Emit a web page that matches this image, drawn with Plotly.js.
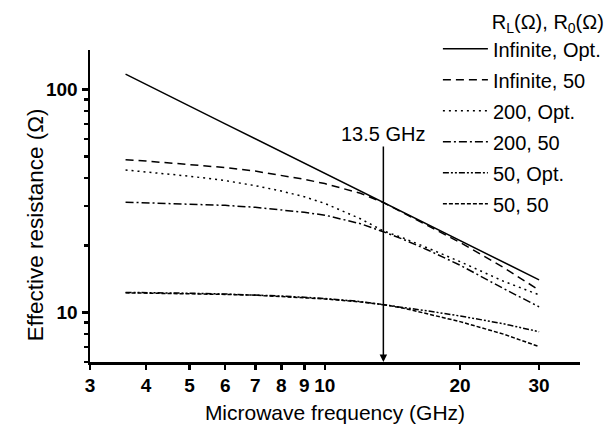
<!DOCTYPE html>
<html>
<head>
<meta charset="utf-8">
<script src="https://cdn.plot.ly/plotly-3.0.1.min.js"></script>
<style>html,body{margin:0;padding:0;background:#fff;}#chart{width:609px;height:430px;}</style>
</head>
<body>
<div id="chart"></div>
<script>
// Microwave frequency (GHz)
const freq = [3.6, 4, 5, 6, 7, 8, 9, 10, 12, 13.5, 15, 17, 20, 25, 30];
// Effective resistance (Ohm) for each R_L, R_0 combination
const infOpt   = [117, 105, 84, 70, 60, 52.5, 46.7, 42, 35, 31.1, 28, 24.7, 21, 16.8, 14];
const inf50    = [48.3, 47.7, 46, 44.6, 43, 41.2, 39.5, 37.8, 34.2, 31.1, 27.9, 24.5, 20.6, 15.9, 12.6];
const r200Opt  = [43.5, 42.7, 40.8, 39, 37, 35, 33, 30.8, 26.3, 23.2, 21.5, 19.4, 16.9, 13.8, 12.0];
const r20050   = [31.2, 31.0, 30.6, 30.2, 29.6, 28.9, 28.1, 27.3, 25.0, 23.0, 21.2, 19.0, 16.3, 12.8, 10.6];
const r50Opt   = [12.3, 12.28, 12.2, 12.1, 12.0, 11.85, 11.7, 11.55, 11.2, 10.85, 10.5, 10.15, 9.65, 8.9, 8.2];
const r5050    = [12.25, 12.22, 12.15, 12.05, 11.95, 11.8, 11.65, 11.5, 11.15, 10.85, 10.45, 9.85, 9.1, 8.0, 7.03];

const seriesNames = ['Infinite, Opt.', 'Infinite, 50', '200, Opt.', '200, 50', '50, Opt.', '50, 50'];
const seriesValues = [infOpt, inf50, r200Opt, r20050, r50Opt, r5050];
const dashes = ['solid', '8px,5px', '2px,4px', '8px,3px,2px,3px', '6px,2px,2px,2px,2px,2px', '4px,2px'];

const xTicks = [3, 4, 5, 6, 7, 8, 9, 10, 20, 30];
const yTicks = [10, 100];
const yMinor = [6, 7, 8, 9, 20, 30, 40, 50, 60, 70, 80, 90];

const FONT = 'Liberation Sans, Arial, Helvetica, sans-serif';

const traces = seriesNames.map((n, i) => ({
  x: freq, y: seriesValues[i], type: 'scatter', mode: 'lines', name: n,
  legendgroup: 'g' + i,
  line: {color: '#000', width: 1.5, dash: dashes[i]}
}));

const layout = {
  width: 609, height: 430,
  margin: {l: 90, r: 29, t: 50, b: 68, autoexpand: false},
  paper_bgcolor: '#fff', plot_bgcolor: '#fff',
  font: {family: FONT, color: '#000', size: 20},
  showlegend: true,
  legend: {
    x: 0.71, xanchor: 'left', y: 1.15, yanchor: 'top',
    bgcolor: 'rgba(0,0,0,0)', borderwidth: 0,
    font: {family: FONT, size: 20, color: '#000'},
    traceorder: 'grouped', tracegroupgap: 2, itemwidth: 45,
    title: {text: 'R<sub>L</sub>(Ω), R<sub>0</sub>(Ω)', side: 'top right', font: {family: FONT, size: 20}}
  },
  xaxis: {
    type: 'log', range: [Math.log10(3), Math.log10(37)],
    showgrid: false, zeroline: false, showline: true, linewidth: 2.5, linecolor: '#000',
    ticks: 'outside', ticklen: 5, tickwidth: 2.5, tickcolor: '#000',
    tickmode: 'array', tickvals: xTicks, ticktext: xTicks.map(String),
    tickfont: {family: FONT, size: 19, color: '#000', weight: 'bold'},
    title: {text: 'Microwave frequency (GHz)', font: {family: FONT, size: 21}, standoff: 10}
  },
  yaxis: {
    type: 'log', range: [Math.log10(6), Math.log10(150)],
    showgrid: false, zeroline: false, showline: true, linewidth: 2.5, linecolor: '#000',
    ticks: 'outside', ticklen: 6, tickwidth: 2.5, tickcolor: '#000',
    tickmode: 'array', tickvals: yTicks, ticktext: yTicks.map(String),
    tickfont: {family: FONT, size: 19, color: '#000', weight: 'bold'},
    minor: {tickmode: 'array', tickvals: yMinor, ticks: 'outside', ticklen: 4, tickwidth: 2.5, tickcolor: '#000', showgrid: false}
  },
  annotations: [{
    x: Math.log10(13.5), y: Math.log10(6), xref: 'x', yref: 'y',
    text: '13.5 GHz', showarrow: true, arrowhead: 2, arrowsize: 1, arrowwidth: 1.5, arrowcolor: '#000',
    ax: 0, ay: -228, font: {family: FONT, size: 20, color: '#000'}
  }, {
    x: -0.112, y: 0.439, xref: 'paper', yref: 'paper', xanchor: 'center', yanchor: 'middle',
    text: 'Effective resistance (Ω)', textangle: -90, showarrow: false,
    font: {family: FONT, size: 22.5, color: '#000'}
  }]
};

Plotly.newPlot('chart', traces, layout, {displayModeBar: false, staticPlot: true});
</script>
</body>
</html>
